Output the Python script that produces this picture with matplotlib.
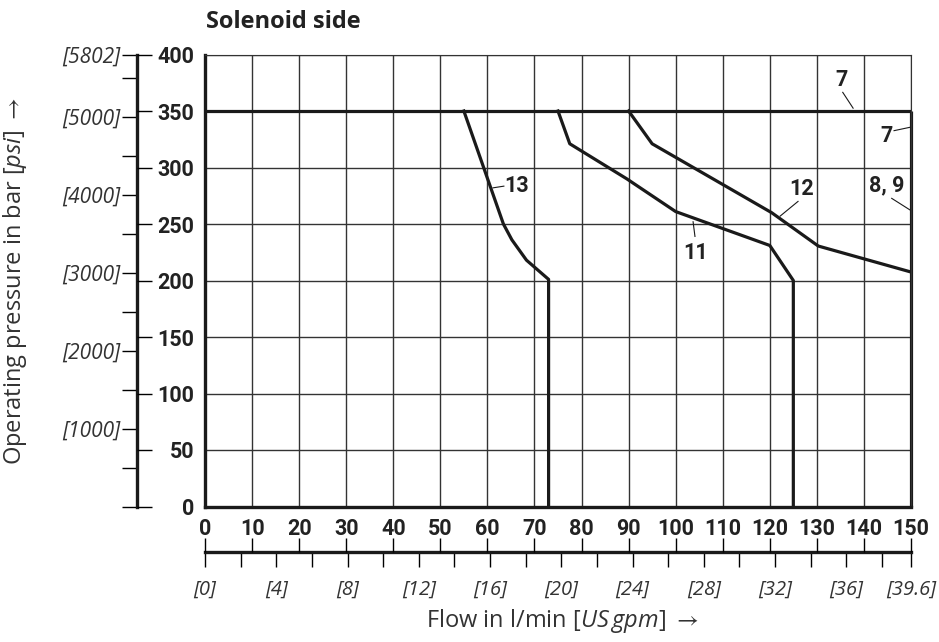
import matplotlib
matplotlib.use('Agg')
import matplotlib.pyplot as plt

## Dados (l/min x bar)
curve13_x = [55, 63.4, 65.2, 68.3, 73, 73]
curve13_y = [350, 250, 236, 218, 201, 0]
curve11_x = [75, 77.5, 89.6, 100, 120, 125, 125]
curve11_y = [350, 321, 290, 261, 231, 200, 0]
curve12_x = [90, 95, 120.4, 130.3, 150]
curve12_y = [350, 321, 260, 230.5, 207.5]
limit_p_x = [0, 150]
limit_p_y = [350, 350]
limit_q_x = [150, 150]
limit_q_y = [0, 350]

# rotulos das curvas: texto, posicao do texto, inicio e fim da linha guia
curve_labels = ['13', '11', '12', '7', '7', '8, 9']
label_xy = [(66.3, 284), (104.2, 224), (126.8, 281), (135.3, 377), (144.9, 328), (144.9, 284)]
leader_from = [(63.5, 283.5), (104.1, 239), (126, 270), (135.5, 366.5), (146.4, 332.6), (145.9, 272.7)]
leader_to = [(61.2, 282), (103.7, 252), (122.2, 257), (137.7, 352.5), (149.8, 335.6), (149.8, 262.4)]

x_ticks = list(range(0, 151, 10))
y_ticks = list(range(0, 401, 50))
psi_major = [1000, 2000, 3000, 4000, 5000, 5802]
psi_major_labels = ['[1000]', '[2000]', '[3000]', '[4000]', '[5000]', '[5802]']
psi_minor = [0, 500, 1500, 2500, 3500, 4500, 5500]
gpm_major = [0, 4, 8, 12, 16, 20, 24, 28, 32, 36, 150 / 3.78541]
gpm_major_labels = ['[0]', '[4]', '[8]', '[12]', '[16]', '[20]', '[24]', '[28]', '[32]', '[36]', '[39.6]']
gpm_minor = [2, 6, 10, 14, 18, 22, 26, 30, 34, 38]

bold_font = ['Roboto', 'DejaVu Sans']
text_font = ['Open Sans', 'DejaVu Sans']
plt.rcParams['font.family'] = text_font
plt.rcParams['mathtext.fontset'] = 'custom'
plt.rcParams['mathtext.rm'] = 'Open Sans'
plt.rcParams['mathtext.it'] = 'Open Sans:italic'
plt.rcParams['mathtext.bf'] = 'Open Sans:bold'
plt.rcParams['mathtext.fallback'] = 'stixsans'

txt_color = '#222222'
W, H = 939, 642
fig = plt.figure(figsize=(W / 100, H / 100), dpi=100)

# eixo principal
x0, x1 = 205, 911
y0, y1 = 506.5, 54.5
ax = fig.add_axes([x0 / W, (H - y0) / H, (x1 - x0) / W, (y0 - y1) / H])
ax.set_xlim(0, 150)
ax.set_ylim(0, 400)
ax.set_xticks(x_ticks)
ax.set_yticks(y_ticks)
ax.set_xticklabels([str(v) for v in x_ticks], fontfamily=bold_font, fontweight='bold', fontsize=15.5, color=txt_color)
ax.set_yticklabels([str(v) for v in y_ticks], fontfamily=bold_font, fontweight='bold', fontsize=15.5, color=txt_color)
ax.tick_params(axis='both', length=0)
ax.tick_params(axis='x', pad=8)
ax.tick_params(axis='y', pad=8)
ax.grid(True, color='#333333', linewidth=1.0)
ax.set_axisbelow(True)
for s in ['left', 'bottom']:
    ax.spines[s].set_linewidth(2.4)
    ax.spines[s].set_color('#1a1a1a')
for s in ['top', 'right']:
    ax.spines[s].set_linewidth(0.8)
    ax.spines[s].set_color('#333333')

lw = 2.3
ax.plot(limit_p_x, limit_p_y, color='#1a1a1a', linewidth=lw, solid_capstyle='butt', clip_on=False)
ax.plot(limit_q_x, limit_q_y, color='#1a1a1a', linewidth=lw, solid_capstyle='butt', clip_on=False)
ax.plot(curve13_x, curve13_y, color='#1a1a1a', linewidth=lw)
ax.plot(curve11_x, curve11_y, color='#1a1a1a', linewidth=lw)
ax.plot(curve12_x, curve12_y, color='#1a1a1a', linewidth=lw)

for lab, (tx, ty), (ax_, ay_), (bx, by) in zip(curve_labels, label_xy, leader_from, leader_to):
    ax.plot([ax_, bx], [ay_, by], color='#1a1a1a', linewidth=0.8)
    ax.text(tx, ty, lab, fontfamily=bold_font, fontweight='bold', fontsize=15.5,
            ha='center', va='center', color=txt_color)

fig.text(206 / W, (H - 28.5) / H, 'Solenoid side', fontweight='bold',
         fontsize=17, ha='left', va='baseline', color=txt_color)

# eixo secundario em psi
px = 137
ax_psi = fig.add_axes([px / W, (H - y0) / H, 0.0001, (y0 - y1) / H])
ax_psi.set_ylim(0, 400 * 14.5038)
ax_psi.set_xticks([])
ax_psi.set_yticks(psi_major)
ax_psi.set_yticklabels(psi_major_labels, fontstyle='italic', fontsize=15, color='#333333')
ax_psi.set_yticks(psi_minor, minor=True)
ax_psi.tick_params(axis='y', which='both', direction='out', length=11, width=1.0, pad=1)
for s in ['top', 'right', 'bottom']:
    ax_psi.spines[s].set_visible(False)
ax_psi.spines['left'].set_linewidth(2.4)
ax_psi.spines['left'].set_color('#1a1a1a')
ax_psi.patch.set_visible(False)

ax_bar = ax_psi.twinx()
ax_bar.set_ylim(0, 400)
ax_bar.set_yticks(y_ticks)
ax_bar.set_yticklabels([])
ax_bar.tick_params(axis='y', direction='out', length=10.5, width=1.0)
for s in ['top', 'left', 'bottom', 'right']:
    ax_bar.spines[s].set_visible(False)

fig.text(15 / W, (H - 281) / H, r'Operating pressure in bar $\mathit{[psi]}$ ${\rightarrow}$', rotation=90,
         fontsize=17, ha='center', va='center', color='#333333')

# eixo secundario em US gpm
gy = 551.7
ax_gpm = fig.add_axes([x0 / W, (H - gy) / H, (x1 - x0) / W, 0.0001])
ax_gpm.set_xlim(0, 150 / 3.78541)
ax_gpm.set_yticks([])
ax_gpm.set_xticks(gpm_major)
ax_gpm.set_xticklabels(gpm_major_labels, fontstyle='italic', fontsize=14.5, color='#333333')
ax_gpm.set_xticks(gpm_minor, minor=True)
ax_gpm.tick_params(axis='x', which='both', direction='out', length=11, width=1.0, pad=9)
for s in ['top', 'right', 'left']:
    ax_gpm.spines[s].set_visible(False)
ax_gpm.spines['bottom'].set_linewidth(2.4)
ax_gpm.spines['bottom'].set_color('#1a1a1a')
ax_gpm.patch.set_visible(False)

ax_lpm = ax_gpm.twiny()
ax_lpm.set_xlim(0, 150)
ax_lpm.set_xticks(x_ticks)
ax_lpm.set_xticklabels([])
ax_lpm.tick_params(axis='x', direction='out', length=10, width=1.0)
for s in ['top', 'left', 'bottom', 'right']:
    ax_lpm.spines[s].set_visible(False)

fig.text(562 / W, (H - 621) / H, r'Flow in l/min $\mathit{[US\,gpm]}$ ${\rightarrow}$', fontsize=17,
         ha='center', va='center', color='#333333')

fig.savefig('out.png', dpi=100)
